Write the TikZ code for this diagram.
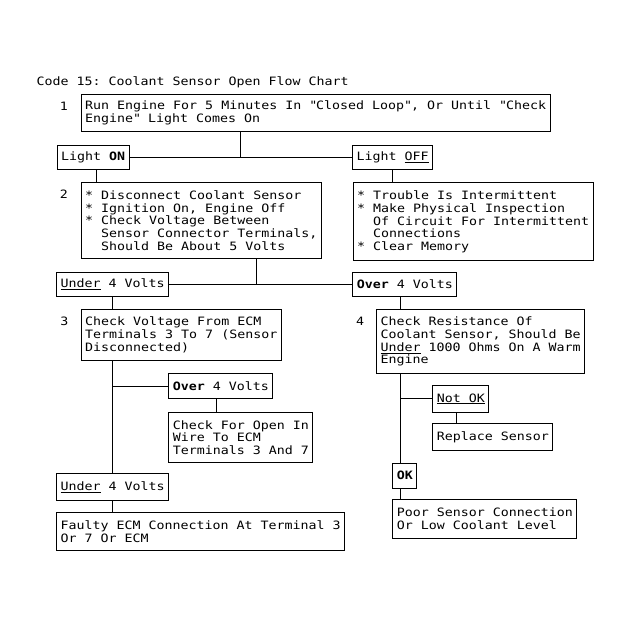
\documentclass[tikz,border=0pt]{standalone}
\usepackage{fontspec}
\setmonofont{DejaVu Sans Mono}[FakeStretch=1.156]
\usepackage{tikz}
\tikzset{
    stepbox/.style = {draw=black, anchor=north west, align=left, inner xsep=4pt, inner ysep=0pt},
    steplabel/.style = {anchor=base, inner sep=0pt},
}
\begin{document}
\begin{tikzpicture}[
	x=1pt, y=-1pt,
	line width=1pt,
	font=\ttfamily\fontsize{11.5}{12.7}\selectfont
]
\useasboundingbox (0,0) rectangle (631,626);
\node[anchor=base west, inner sep=0pt] at (36,85.5) (title) {Code 15: Coolant Sensor Open Flow Chart};
%
\node[steplabel] at (64,110) (n1) {1};
\node[steplabel] at (64,198.3) (n2) {2};
\node[steplabel] at (64.5,325.7) (n3) {3};
\node[steplabel] at (360,325.7) (n4) {4};
%
\node[stepbox, minimum height=37pt] at (80.7,94) (run) {Run Engine For 5 Minutes In \textquotedbl Closed Loop\textquotedbl, Or Until \textquotedbl Check\\Engine\textquotedbl{} Light Comes On};
\node[stepbox, minimum height=24pt] at (56.7,145) (lon) {Light \textbf{ON}};
\node[stepbox, minimum height=24pt] at (352,145) (loff) {Light \underline{OFF}};
\node[stepbox, minimum height=76pt] at (80.7,182) (disc) {* Disconnect Coolant Sensor\\* Ignition On, Engine Off\\* Check Voltage Between\\\phantom{*}~Sensor Connector Terminals,\\\phantom{*}~Should Be About 5 Volts};
\node[stepbox, minimum height=78pt] at (352.5,182.3) (trouble) {* Trouble Is Intermittent\\* Make Physical Inspection\\\phantom{*}~Of Circuit For Intermittent\\\phantom{*}~Connections\\* Clear Memory};
\node[stepbox, minimum height=24pt] at (56,272) (under1) {\underline{Under} 4 Volts};
\node[stepbox, minimum height=24pt] at (352.3,272) (over1) {\textbf{Over} 4 Volts};
\node[stepbox, minimum height=51pt] at (80.7,309) (ecm) {Check Voltage From ECM\\Terminals 3 To 7 (Sensor\\Disconnected)};
\node[stepbox, minimum height=24.4pt] at (168.3,373.3) (over2) {\textbf{Over} 4 Volts};
\node[stepbox, minimum height=50.6pt] at (168.3,411.7) (openwire) {Check For Open In\\Wire To ECM\\Terminals 3 And 7};
\node[stepbox, minimum height=26.7pt] at (56,473.3) (under2) {\underline{Under} 4 Volts};
\node[stepbox, minimum height=37.7pt] at (56,512.3) (faulty) {Faulty ECM Connection At Terminal 3\\Or 7 Or ECM};
\node[stepbox, minimum height=64pt] at (376,309.3) (resist) {Check Resistance Of\\Coolant Sensor, Should Be\\\underline{Under} 1000 Ohms On A Warm\\Engine};
\node[stepbox, minimum height=26.7pt] at (432.3,385) (notok) {\underline{Not OK}};
\node[stepbox, minimum height=26.7pt] at (432.3,423.3) (replace) {Replace Sensor};
\node[stepbox, minimum height=25pt] at (392.3,462.7) (ok) {\textbf{OK}};
\node[stepbox, minimum height=38.4pt] at (392.3,499.3) (poor) {Poor Sensor Connection\\Or Low Coolant Level};
%
\coordinate (j1) at (240,157);
\coordinate (j2) at (256.7,284);
\coordinate (t2) at (96.7,0);
\coordinate (t5) at (216.7,0);
\coordinate (t4) at (400.7,0);
\coordinate (t6) at (456,0);
%
\draw (j1 |- run.south) -- (j1);
\draw (lon) -- (loff);
\draw (t2 |- lon.south) -- (t2 |- disc.north);
\draw (loff.south) -- (loff.south |- trouble.north);
%
\draw (j2 |- disc.south) -- (j2);
\draw (under1) -- (over1);
\draw (under1.south) -- (under1.south |- ecm.north);
\draw (under2.north |- ecm.south) -- (under2.north);
\draw (over2.west) -- (over2.west -| under2.north);
\draw (t5 |- over2.south) -- (t5 |- openwire.north);
\draw (under2.south) -- (under2.south |- faulty.north);
%
\draw (t4 |- over1.south) -- (t4 |- resist.north);
\draw (t4 |- resist.south) -- (t4 |- ok.north);
\draw (notok.west) -- (notok.west -| t4);
\draw (t6 |- notok.south) -- (t6 |- replace.north);
\draw (t4 |- ok.south) -- (t4 |- poor.north);
\end{tikzpicture}
\end{document}
